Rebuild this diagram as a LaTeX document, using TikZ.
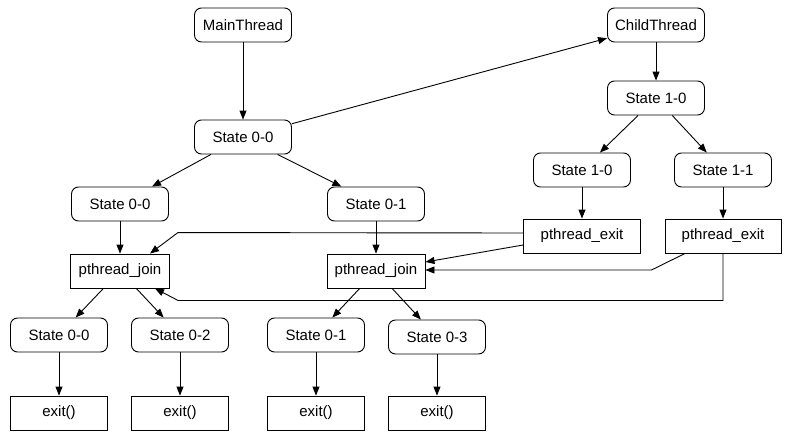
\documentclass[tikz,border=0pt]{standalone}
\usepackage{fontspec}
\setmainfont{Liberation Sans}
\usepackage{tikz}
\usetikzlibrary{arrows.meta, positioning}

\begin{document}
\begin{tikzpicture}[
        x=1pt, y=-1pt,
        node distance=78pt,
        every node/.style={font=\fontsize{15}{18}\selectfont},
        state/.style={draw, line width=0.9pt, rounded corners=7pt, minimum width=97pt, minimum height=34pt, inner sep=0pt},
        call/.style={draw, line width=0.9pt, minimum width=97pt, minimum height=34pt, inner sep=0pt},
        arr/.style={-{Triangle[length=9pt,width=7pt]}, line width=0.9pt}
        ]
        \useasboundingbox (0,0) rectangle (789,439);

        % Nodes
        \node[state] (mainT) at (243,25) {MainThread};
        \node[state] (childT) at (656,25) {ChildThread};
        \node[state] (s00top) at (243,137) {State 0-0};
        \node[state] (s10top) at (656,98) {State 1-0};
        \node[state] (s00mid) at (120,204) {State 0-0};
        \node[state] (s01mid) at (376,204) {State 0-1};
        \node[state] (s10mid) at (582,170) {State 1-0};
        \node[state] (s11mid) at (723,170) {State 1-1};
        \node[call, minimum width=117pt] (exitL) at (582,236) {pthread\_exit};
        \node[call, minimum width=116pt] (exitR) at (723,236) {pthread\_exit};
        \node[call, minimum width=99pt] (joinL) at (120,271) {pthread\_join};
        \node[call, minimum width=98pt] (joinR) at (376,271) {pthread\_join};
        \node[state] (s00bot) at (59,335) {State 0-0};
        \node[state] (s02bot) at (180,335) {State 0-2};
        \node[state] (s01bot) at (316,335) {State 0-1};
        \node[state] (s03bot) at (437,337) {State 0-3};
        \node[call, below of=s00bot] (end00) {exit()};
        \node[call, below of=s02bot] (end02) {exit()};
        \node[call, below of=s01bot] (end01) {exit()};
        \node[call, below of=s03bot, node distance=76pt] (end03) {exit()};

        % Arrows
        \draw[arr] (mainT) -- (s00top);
        \draw[arr] (s00top) -- (childT);
        \draw[arr] (childT) -- (s10top);
        \draw[arr] (s00top) -- (s00mid);
        \draw[arr] (s00top) -- (s01mid);
        \draw[arr] (s10top) -- (s10mid);
        \draw[arr] (s10top) -- (s11mid);
        \draw[arr] (s00mid) -- (joinL);
        \draw[arr] (s01mid) -- (joinR);
        \draw[arr] (s10mid) -- (exitL);
        \draw[arr] (s11mid) -- (exitR);

        % exit -> join
        \draw[arr] ([yshift=3pt]exitL.west) -- ([xshift=58pt,yshift=21pt]joinL.north) -- ([xshift=30pt]joinL.north);
        \draw[arr] ([yshift=-9pt]exitL.west) -- ([yshift=9pt]joinR.east);
        \draw[arr] ([xshift=-38pt]exitR.south) -- ([xshift=226pt,yshift=1pt]joinR.east) -- ([yshift=1pt]joinR.east);
        \draw[arr] (exitR.south) |- ([xshift=58pt,yshift=-12pt]joinL.south) -- ([xshift=35pt]joinL.south);

        \draw[arr] (joinL) -- (s00bot);
        \draw[arr] (joinL) -- (s02bot);
        \draw[arr] (joinR) -- (s01bot);
        \draw[arr] (joinR) -- (s03bot);
        \draw[arr] (s00bot) -- (end00);
        \draw[arr] (s02bot) -- (end02);
        \draw[arr] (s01bot) -- (end01);
        \draw[arr] (s03bot) -- (end03);
    \end{tikzpicture}
\end{document}
